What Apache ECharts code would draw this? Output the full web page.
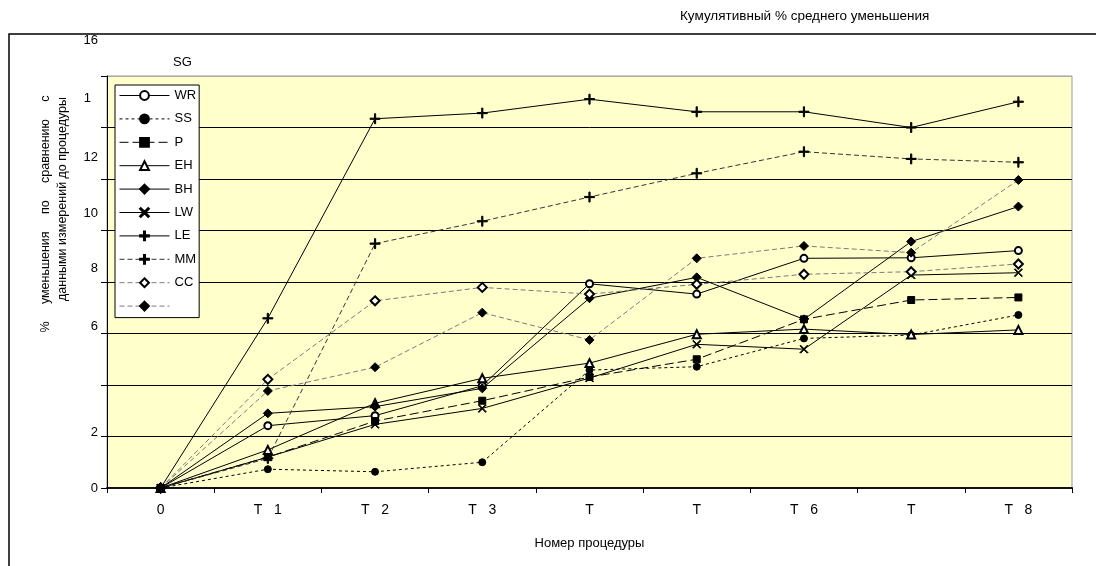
<!DOCTYPE html>
<html><head><meta charset="utf-8">
<script src="https://cdn.jsdelivr.net/npm/echarts@6/dist/echarts.min.js"></script>
<style>html,body{margin:0;padding:0;background:#fff}#c{width:1096px;height:566px}</style>
</head><body><div id="c"></div>
<script>
// ---- data ----
const categories = ['0', 'T   1', 'T   2', 'T   3', 'T', 'T', 'T   6', 'T', 'T   8'];
const yTickLabels = ['0', '2', '', '6', '8', '10', '12', '1', '16'];
const seriesNames = ['WR', 'SS', 'P', 'EH', 'BH', 'LW', 'LE', 'MM', 'CC', ' '];
const WR  = [0, 2.42, 2.81, 3.97, 7.93, 7.53, 8.92, 8.94, 9.22];
const SS  = [0, 0.73, 0.63, 1.00, 4.58, 4.71, 5.81, 5.94, 6.72];
const P   = [0, 1.20, 2.60, 3.39, 4.31, 5.00, 6.55, 7.30, 7.40];
const EH  = [0, 1.48, 3.29, 4.26, 4.85, 5.97, 6.17, 5.96, 6.14];
const BH  = [0, 2.90, 3.16, 3.87, 7.37, 8.18, 6.55, 9.57, 10.93];
const LW  = [0, 1.20, 2.47, 3.09, 4.27, 5.58, 5.39, 8.27, 8.36];
const LE  = [0, 6.59, 14.34, 14.56, 15.10, 14.61, 14.61, 14.00, 15.00];
const MM  = [0, 1.15, 9.49, 10.36, 11.30, 12.22, 13.06, 12.78, 12.65];
const CC  = [0, 4.22, 7.27, 7.79, 7.53, 7.91, 8.30, 8.40, 8.70];
const CC2 = [0, 3.77, 4.69, 6.81, 5.75, 8.92, 9.40, 9.14, 11.96];

// ---- styling ----
const FONT = "'Liberation Sans Narrow','Arial Narrow','Liberation Sans',Arial,sans-serif";
const FONT2 = "'Liberation Sans',Arial,sans-serif";
const PLUS = 'path://M4.4,0H5.6V4.4H10V5.6H5.6V10H4.4V5.6H0V4.4H4.4Z';
const CROSS = 'path://M0.8,0L5,4.2L9.2,0L10,0.8L5.8,5L10,9.2L9.2,10L5,5.8L0.8,10L0,9.2L4.2,5L0,0.8Z';
const seriesData = [WR, SS, P, EH, BH, LW, LE, MM, CC, CC2];
const styles = [
  {symbol: 'emptyCircle', size: 7, line: 'solid', color: '#000', fill: '#000'},
  {symbol: 'circle', size: 7, line: [3, 3], color: '#000', fill: '#000'},
  {symbol: 'rect', size: 7, line: [9, 4], color: '#000', fill: '#000'},
  {symbol: 'emptyTriangle', size: 8, line: 'solid', color: '#000', fill: '#000'},
  {symbol: 'diamond', size: 9, line: 'solid', color: '#000', fill: '#000'},
  {symbol: CROSS, size: 8, line: 'solid', color: '#000', fill: '#000'},
  {symbol: PLUS, size: 10, line: 'solid', color: '#000', fill: '#000'},
  {symbol: PLUS, size: 10, line: [5, 3], color: '#333', fill: '#000'},
  {symbol: 'emptyDiamond', size: 9, line: [5, 3], color: '#7a7a7a', fill: '#000'},
  {symbol: 'diamond', size: 9, line: [5, 3], color: '#7a7a7a', fill: '#000'}
];
const yOffsets = [0, 4, 0, 7, 14, 17, 22, 29, 36];
const rich = {};
yOffsets.forEach((o, i) => {
  rich['r' + i] = {fontSize: 13, fontFamily: FONT2, color: '#000',
    padding: [0, i === 7 ? 7 : 0, 2 * o, 0]};
});

const series = seriesNames.map((n, i) => ({
  name: n,
  type: 'line',
  data: seriesData[i],
  symbol: styles[i].symbol,
  symbolSize: styles[i].size,
  showAllSymbol: true,
  animation: false,
  itemStyle: {color: styles[i].fill, borderColor: '#000', borderWidth: 1},
  lineStyle: {color: styles[i].color, width: 1, type: styles[i].line},
  emphasis: {disabled: true}
}));

const chart = echarts.init(document.getElementById('c'), null, {renderer: 'canvas'});
chart.setOption({
  backgroundColor: '#fff',
  animation: false,
  title: [
    {text: 'Кумулятивный % среднего уменьшения', left: 680, top: 9, padding: 0,
      textStyle: {fontSize: 13.5, fontWeight: 'normal', color: '#000', fontFamily: FONT2}},
    {text: 'SG', left: 173, top: 56, padding: 0,
      textStyle: {fontSize: 13, fontWeight: 'normal', color: '#000', fontFamily: FONT2}}
  ],
  legend: {
    orient: 'vertical', left: 115, top: 85, itemWidth: 50, itemHeight: 11, itemGap: 10.4,
    padding: [4, 3, 5, 4], backgroundColor: '#fff', borderColor: '#000', borderWidth: 1,
    textStyle: {fontSize: 13, color: '#000', fontFamily: FONT}, selectedMode: false,
    lineStyle: {width: 1},
    data: seriesNames
  },
  grid: {left: 107, right: 24, top: 76, bottom: 78, show: true,
    backgroundColor: '#FFFFCC', borderColor: '#999', borderWidth: 1},
  xAxis: {
    type: 'category', data: categories, boundaryGap: true,
    axisLine: {lineStyle: {color: '#111', width: 2}},
    axisTick: {show: true, length: 5, lineStyle: {color: '#000'}},
    axisLabel: {fontSize: 14, color: '#000', fontFamily: FONT2, margin: 15},
    name: 'Номер процедуры', nameLocation: 'middle', nameGap: 49,
    nameTextStyle: {fontSize: 13, color: '#000', fontFamily: FONT2}
  },
  yAxis: {
    type: 'value', min: 0, max: 16, interval: 2,
    axisLine: {show: true, lineStyle: {color: '#000', width: 1}},
    axisTick: {show: true, length: 6, lineStyle: {color: '#000'}},
    splitLine: {show: true, lineStyle: {color: ['#000', '#000', '#000', '#000', '#000', '#000', '#000', '#000', '#aaa'], width: 1}},
    axisLabel: {
      margin: 9, align: 'right',
      formatter: (v) => { const i = Math.round(v / 2); return '{r' + i + '|' + yTickLabels[i] + '}'; },
      rich: rich
    }
  },
  graphic: [
    {type: 'rect', silent: true, z: -10, shape: {x: 9, y: 34, width: 1200, height: 700},
      style: {fill: 'none', stroke: '#000', lineWidth: 1.5}},
    {type: 'text', silent: true, x: 46, y: 214, rotation: Math.PI / 2,
      style: {text: '%     уменьшения     по     сравнению     с', fontSize: 12.5, fontFamily: FONT2,
        fill: '#000', align: 'center', verticalAlign: 'middle'}},
    {type: 'text', silent: true, x: 63, y: 199, rotation: Math.PI / 2,
      style: {text: 'данными измерений до процедуры', fontSize: 12.5, fontFamily: FONT2,
        fill: '#000', align: 'center', verticalAlign: 'middle'}}
  ],
  series: series
});
</script></body></html>
